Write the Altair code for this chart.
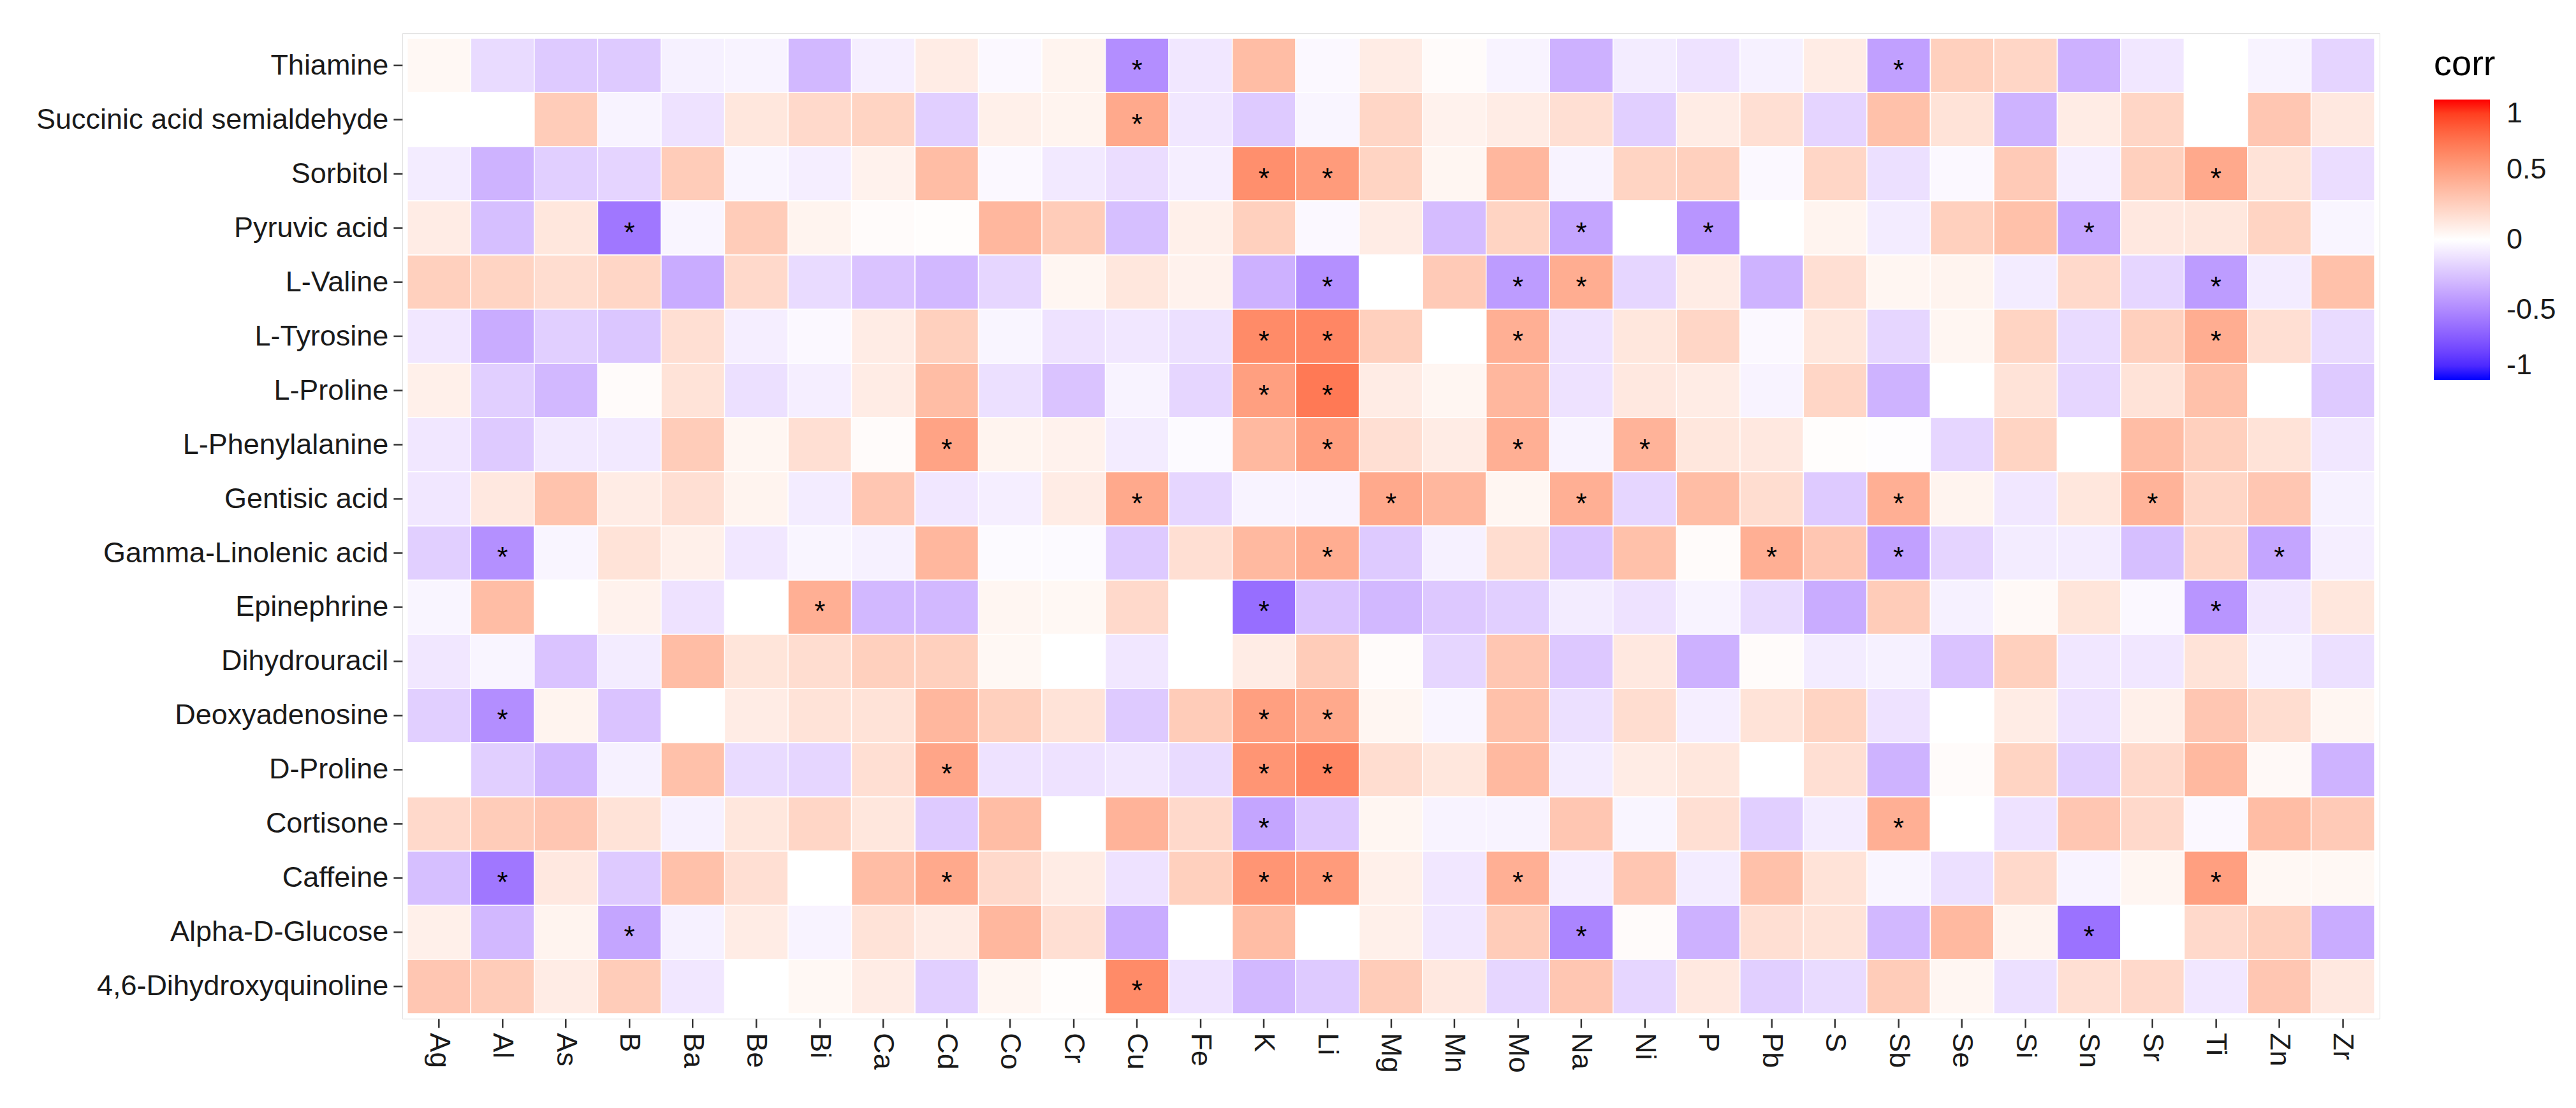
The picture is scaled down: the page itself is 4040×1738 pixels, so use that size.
import altair as alt
import pandas as pd

metals = ["Ag","Al","As","B","Ba","Be","Bi","Ca","Cd","Co","Cr","Cu","Fe","K","Li","Mg",
          "Mn","Mo","Na","Ni","P","Pb","S","Sb","Se","Si","Sn","Sr","Ti","Zn","Zr"]

metabolites = ["Thiamine","Succinic acid semialdehyde","Sorbitol","Pyruvic acid","L-Valine",
               "L-Tyrosine","L-Proline","L-Phenylalanine","Gentisic acid","Gamma-Linolenic acid",
               "Epinephrine","Dihydrouracil","Deoxyadenosine","D-Proline","Cortisone","Caffeine",
               "Alpha-D-Glucose","4,6-Dihydroxyquinoline"]

thiamine = [0.04,-0.15,-0.22,-0.22,-0.06,-0.05,-0.3,-0.07, 0.1,-0.03,0.06,-0.48,-0.1,0.35,-0.03,0.1,
            0.02,-0.05,-0.33,-0.08,-0.12,-0.06,0.1,-0.4, 0.25,0.22,-0.33,-0.1,0.0,-0.05,-0.18]
succinic = [0.0,0.0,0.27,-0.05,-0.12,0.13,0.2,0.23, -0.2,0.08,0.06,0.45,-0.1,-0.22,-0.04,0.22,
            0.07,0.1,0.17,-0.2,0.1,0.17,-0.18,0.33, 0.15,-0.32,0.1,0.22,0.0,0.3,0.12]
sorbitol = [-0.08,-0.32,-0.2,-0.18,0.27,-0.04,-0.07,0.07, 0.35,-0.03,-0.09,-0.14,-0.07,0.58,0.52,0.23,
            0.05,0.38,-0.05,0.23,0.25,-0.03,0.22,-0.13, -0.03,0.28,-0.07,0.25,0.45,0.15,-0.14]
pyruvic = [0.1,-0.27,0.13,-0.58,-0.04,0.27,0.06,0.02, 0.01,0.38,0.27,-0.27,0.08,0.25,-0.03,0.1,
           -0.28,0.23,-0.38,0.0,-0.45,0.0,0.06,-0.08, 0.25,0.33,-0.38,0.12,0.13,0.23,-0.04]
valine = [0.25,0.23,0.18,0.22,-0.35,0.2,-0.15,-0.25, -0.3,-0.17,0.05,0.13,0.07,-0.33,-0.47,0.0,
          0.28,-0.42,0.43,-0.17,0.1,-0.32,0.17,0.05, 0.06,-0.08,0.2,-0.17,-0.42,-0.08,0.33]
tyrosine = [-0.1,-0.35,-0.2,-0.24,0.17,-0.07,-0.03,0.1, 0.25,-0.04,-0.12,-0.1,-0.13,0.6,0.62,0.25,
            0.0,0.42,-0.12,0.13,0.22,-0.03,0.13,-0.17, 0.05,0.23,-0.15,0.25,0.43,0.17,-0.15]
lproline = [0.08,-0.2,-0.3,0.02,0.15,-0.13,-0.07,0.1, 0.35,-0.13,-0.25,-0.05,-0.17,0.5,0.68,0.1,
            0.05,0.38,-0.12,0.12,0.1,-0.05,0.22,-0.32, 0.0,0.15,-0.17,0.15,0.33,0.0,-0.22]
phenylalanine = [-0.1,-0.22,-0.09,-0.09,0.27,0.05,0.17,0.02, 0.48,0.06,0.07,-0.08,-0.02,0.37,0.5,0.17,
                 0.1,0.42,-0.05,0.4,0.13,0.12,0.01,-0.01, -0.17,0.23,0.0,0.35,0.25,0.15,-0.1]
gentisic = [-0.1,0.12,0.32,0.1,0.17,0.06,-0.08,0.3, -0.1,-0.07,0.1,0.45,-0.17,-0.05,-0.05,0.45,
            0.38,0.05,0.42,-0.17,0.35,0.18,-0.22,0.42, 0.06,-0.1,0.13,0.4,0.22,0.3,-0.06]
gamma = [-0.2,-0.47,-0.04,0.15,0.08,-0.1,-0.04,-0.06, 0.38,-0.02,-0.02,-0.22,0.17,0.37,0.43,-0.22,
         -0.06,0.18,-0.25,0.33,0.02,0.42,0.3,-0.4, -0.18,-0.08,-0.08,-0.27,0.22,-0.38,-0.07]
epinephrine = [-0.04,0.35,0.0,0.07,-0.12,0.0,0.42,-0.3, -0.3,0.05,0.04,0.2,0.0,-0.62,-0.25,-0.3,
               -0.23,-0.2,-0.08,-0.12,-0.05,-0.15,-0.35,0.27, -0.06,0.03,0.14,-0.03,-0.45,-0.1,0.13]
dihydrouracil = [-0.1,-0.04,-0.25,-0.08,0.35,0.14,0.18,0.25, 0.25,0.04,0.0,-0.1,0.0,0.1,0.27,0.02,
                 -0.17,0.3,-0.23,0.12,-0.33,0.02,-0.08,-0.06, -0.25,0.25,-0.1,-0.1,0.15,-0.06,-0.13]
deoxyadenosine = [-0.2,-0.48,0.06,-0.25,0.0,0.1,0.15,0.15, 0.38,0.25,0.15,-0.22,0.27,0.5,0.45,0.05,
                  -0.04,0.33,-0.13,0.18,-0.07,0.15,0.23,-0.12, 0.0,0.1,-0.12,0.08,0.3,0.18,0.05]
dproline = [0.0,-0.2,-0.3,-0.06,0.33,-0.15,-0.17,0.17, 0.47,-0.12,-0.12,-0.1,-0.15,0.55,0.62,0.18,
            0.13,0.37,-0.08,0.1,0.13,0.0,0.17,-0.32, 0.02,0.23,-0.2,0.2,0.37,0.03,-0.32]
cortisone = [0.2,0.27,0.3,0.15,-0.06,0.13,0.22,0.13, -0.22,0.35,0.0,0.4,0.2,-0.38,-0.23,0.05,
             -0.05,-0.05,0.3,-0.04,0.17,-0.2,-0.08,0.42, 0.0,-0.12,0.3,0.2,-0.03,0.35,0.28]
caffeine = [-0.27,-0.58,0.12,-0.22,0.33,0.17,0.0,0.35, 0.45,0.2,0.1,-0.12,0.25,0.55,0.52,0.08,
            -0.1,0.42,-0.07,0.3,-0.08,0.33,0.15,-0.04, -0.13,0.2,-0.05,0.05,0.5,0.04,0.04]
glucose = [0.08,-0.3,0.06,-0.38,-0.06,0.1,-0.05,0.15, 0.1,0.38,0.17,-0.35,0.0,0.35,0.0,0.08,
           -0.1,0.27,-0.52,0.02,-0.33,0.17,0.15,-0.3, 0.37,0.06,-0.6,0.0,0.2,0.25,-0.35]
dihydroxyquinoline = [0.3,0.27,0.1,0.27,-0.1,0.0,0.04,0.1, -0.2,0.05,0.01,0.6,-0.12,-0.3,-0.22,0.27,
                      0.12,-0.17,0.3,-0.17,0.12,-0.2,-0.15,0.27, 0.05,-0.13,0.17,0.2,-0.1,0.3,0.12]

row_values = [thiamine, succinic, sorbitol, pyruvic, valine, tyrosine, lproline, phenylalanine,
              gentisic, gamma, epinephrine, dihydrouracil, deoxyadenosine, dproline, cortisone,
              caffeine, glucose, dihydroxyquinoline]

significant = {
    "Thiamine": ["Cu", "Sb"],
    "Succinic acid semialdehyde": ["Cu"],
    "Sorbitol": ["K", "Li", "Ti"],
    "Pyruvic acid": ["B", "Na", "P", "Sn"],
    "L-Valine": ["Li", "Mo", "Na", "Ti"],
    "L-Tyrosine": ["K", "Li", "Mo", "Ti"],
    "L-Proline": ["K", "Li"],
    "L-Phenylalanine": ["Cd", "Li", "Mo", "Ni"],
    "Gentisic acid": ["Cu", "Mg", "Na", "Sb", "Sr"],
    "Gamma-Linolenic acid": ["Al", "Li", "Pb", "Sb", "Zn"],
    "Epinephrine": ["Bi", "K", "Ti"],
    "Dihydrouracil": [],
    "Deoxyadenosine": ["Al", "K", "Li"],
    "D-Proline": ["Cd", "K", "Li"],
    "Cortisone": ["K", "Sb"],
    "Caffeine": ["Al", "Cd", "K", "Li", "Mo", "Ti"],
    "Alpha-D-Glucose": ["B", "Na", "Sn"],
    "4,6-Dihydroxyquinoline": ["Cu"],
}

records = []
for name, vals in zip(metabolites, row_values):
    for m, v in zip(metals, vals):
        records.append({"metabolite": name, "metal": m, "corr": v,
                        "sig": "*" if m in significant[name] else ""})
df = pd.DataFrame(records)

FONT = "Liberation Sans"

x_enc = alt.X("metal:N", sort=metals,
              scale=alt.Scale(paddingInner=0, paddingOuter=0.08),
              axis=alt.Axis(title=None, labelAngle=90, labelAlign="left", labelBaseline="middle",
                            labelFontSize=45, labelColor="#1a1a1a", labelPadding=8, labelLimit=0,
                            tickSize=14, tickWidth=2.5, tickColor="#333333", domain=False,
                            labelFont=FONT))
y_enc = alt.Y("metabolite:N", sort=metabolites,
              scale=alt.Scale(paddingInner=0, paddingOuter=0.093),
              axis=alt.Axis(title=None, labelFontSize=45, labelColor="#1a1a1a", labelPadding=8,
                            labelLimit=0,
                            tickSize=14, tickWidth=2.5, tickColor="#333333", domain=False,
                            labelFont=FONT))

base = alt.Chart(df)

heat = base.mark_rect(stroke="white", strokeWidth=1.5).encode(
    x=x_enc,
    y=y_enc,
    color=alt.Color("corr:Q",
                    scale=alt.Scale(domain=[-1, 0, 1], range=["#0000FF", "#FFFFFF", "#FF0000"],
                                    interpolate="lab"),
                    legend=alt.Legend(title="corr", orient="none", legendX=3187, legendY=22,
                                      titleFontSize=56, titleFontWeight="normal", titleFont=FONT,
                                      titleColor="black", titlePadding=26,
                                      gradientLength=440, gradientThickness=88,
                                      gradientStrokeWidth=0, direction="vertical",
                                      values=[-1, -0.5, 0, 0.5, 1],
                                      labelExpr="'' + datum.value",
                                      labelBaseline="middle", labelOverlap=False,
                                      labelFontSize=45, labelFont=FONT, labelColor="#1a1a1a",
                                      labelOffset=26)),
)

stars = base.transform_filter("datum.sig == '*'").mark_text(
    fontSize=44, color="black", font=FONT, baseline="middle", dy=9
).encode(x=x_enc, y=y_enc, text="sig:N")

chart = (heat + stars).properties(
    width=3102, height=1546,
    autosize=alt.AutoSizeParams(type="none"),
    padding={"left": 623, "top": 44, "right": 300, "bottom": 130},
).configure_view(stroke="black", strokeWidth=3).configure(font=FONT, background="white")

chart.save("out.html", embed_options={"renderer": "svg", "actions": False})
